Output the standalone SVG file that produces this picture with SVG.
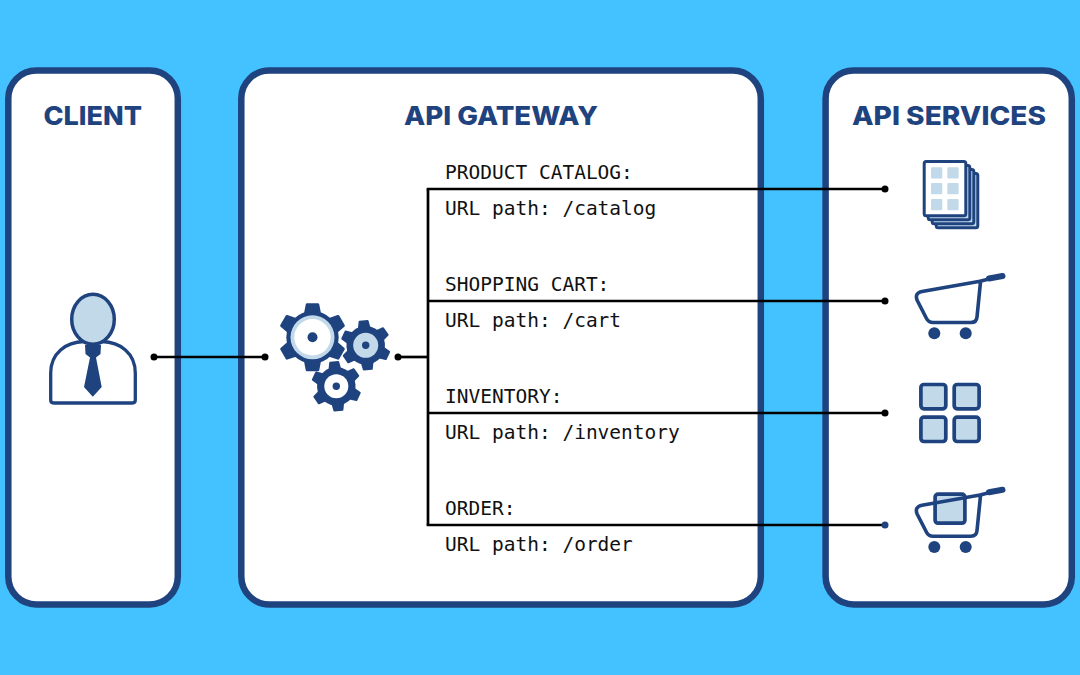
<svg xmlns="http://www.w3.org/2000/svg" width="1080" height="675" viewBox="0 0 1080 675">
  <style>
    .panel { fill: #fff; stroke: #1f437f; stroke-width: 6.5; }
    .title { font-family: "Inter", "Open Sans", sans-serif; font-weight: 800; font-size: 26px; fill: #1f437f; text-anchor: middle; }
    .route { font-family: "DejaVu Sans Mono", monospace; font-size: 19.5px; fill: #111; }
    .wire { fill: none; stroke: #000; stroke-width: 2.7; }
    .dot { fill: #000; }
    .dark { fill: #1f437f; }
    .light { fill: #c2d9ea; }
    .line { stroke: #1f437f; stroke-width: 3; stroke-linejoin: round; stroke-linecap: round; }
    .thick { stroke: #1f437f; stroke-width: 3.7; stroke-linejoin: round; }
    .tooth { fill: #1f437f; stroke: #1f437f; stroke-width: 8; stroke-linejoin: round; }
  </style>
  <defs>
    <!-- six-toothed wheel on a 100-unit radius -->
    <path id="tooth" class="tooth" d="M70 -21 L96 -16 L96 16 L70 21 Z"/>
    <g id="gear">
      <circle class="dark" r="77"/>
      <use href="#tooth" transform="rotate(30)"/>
      <use href="#tooth" transform="rotate(90)"/>
      <use href="#tooth" transform="rotate(150)"/>
      <use href="#tooth" transform="rotate(210)"/>
      <use href="#tooth" transform="rotate(270)"/>
      <use href="#tooth" transform="rotate(330)"/>
    </g>
    <g id="cart">
      <path d="M981.5 281 L922 291.500 Q914.500 293 917 300 L926.500 318.500 Q928.500 322.500 933 322.500 L971 322.500 Q976.500 322.500 977 317 L980.500 282" fill="none" stroke="#1f437f" stroke-width="3.600" stroke-linejoin="round"/>
      <path d="M989 278.500 L1002.500 276" fill="none" stroke="#1f437f" stroke-width="6" stroke-linecap="round"/>
      <path d="M981 281 L989 279" fill="none" stroke="#1f437f" stroke-width="3.600"/>
      <circle class="dark" cx="934.300" cy="333.300" r="6"/>
      <circle class="dark" cx="965.700" cy="333.300" r="6"/>
    </g>
  </defs>

  <rect width="1080" height="675" fill="#44c2ff"/>

  <g id="client">
    <rect class="panel" x="8.300" y="70.500" width="169.500" height="534" rx="28"/>
    <text class="title" x="92.700" y="124.500" textLength="98.500" lengthAdjust="spacingAndGlyphs">CLIENT</text>
    <path d="M53.500 403 Q50.700 403 50.700 400 L50.700 373 C50.700 353 66 342 84 341.500 L102 341.500 C120 342 135.300 353 135.300 373 L135.300 400 Q135.300 403 132.500 403 Z" fill="#fff" class="thick" style="stroke-width:3.300"/>
    <path class="dark" d="M85 345 L101 345 L100.500 354 L96 357.500 L101.700 387 L92.800 396.700 L84 387 L90 357.500 L85.500 354 Z"/>
    <ellipse class="light" cx="93" cy="319.300" rx="21.300" ry="25" stroke="#1f437f" stroke-width="3.500"/>
  </g>

  <g id="api-gateway">
    <rect class="panel" x="241.300" y="70.500" width="519.500" height="534" rx="28"/>
    <text class="title" x="501" y="124.500" textLength="194" lengthAdjust="spacingAndGlyphs">API GATEWAY</text>
    <text class="route" x="445" y="179">PRODUCT CATALOG:</text>
    <text class="route" x="445" y="215">URL path: /catalog</text>
    <text class="route" x="445" y="291">SHOPPING CART:</text>
    <text class="route" x="445" y="327">URL path: /cart</text>
    <text class="route" x="445" y="403">INVENTORY:</text>
    <text class="route" x="445" y="439">URL path: /inventory</text>
    <text class="route" x="445" y="515">ORDER:</text>
    <text class="route" x="445" y="551">URL path: /order</text>
  </g>

  <g id="gear-large">
    <use href="#gear" transform="translate(312.500 337.300) scale(0.34)"/>
    <circle class="light" cx="312.500" cy="337.300" r="22"/>
    <circle cx="312.500" cy="337.300" r="18.200" fill="#fff"/>
    <circle class="dark" cx="312.500" cy="337.300" r="5"/>
  </g>
  <g id="gear-right">
    <use href="#gear" transform="translate(365.700 345.300) rotate(-5) scale(0.25)"/>
    <circle class="light" cx="365.700" cy="345.300" r="12.500"/>
    <circle class="dark" cx="365.700" cy="345.300" r="3.700"/>
  </g>
  <g id="gear-bottom">
    <use href="#gear" transform="translate(336.300 386.300) rotate(-5) scale(0.25)"/>
    <circle cx="336.300" cy="386.300" r="12" fill="#fff"/>
    <circle class="dark" cx="336.300" cy="386.300" r="3.700"/>
  </g>

  <g id="api-services">
    <rect class="panel" x="825.600" y="70.500" width="246.200" height="534" rx="28"/>
    <text class="title" x="949" y="124.500" textLength="194" lengthAdjust="spacingAndGlyphs">API SERVICES</text>
  </g>

  <g id="catalog-service">
    <rect class="light line" x="936.200" y="173.500" width="41.600" height="54.300" rx="2"/>
    <rect class="light line" x="932.200" y="169.500" width="41.600" height="54.300" rx="2"/>
    <rect class="light line" x="928.200" y="165.500" width="41.600" height="54.300" rx="2"/>
    <rect x="924.200" y="161.500" width="41.600" height="54.300" rx="2" fill="#fff" class="line"/>
    <g class="light">
      <rect x="931" y="167.300" width="11.300" height="11.300" rx="1"/>
      <rect x="947.300" y="167.300" width="11.300" height="11.300" rx="1"/>
      <rect x="931" y="183" width="11.300" height="11.300" rx="1"/>
      <rect x="947.300" y="183" width="11.300" height="11.300" rx="1"/>
      <rect x="931" y="199" width="11.300" height="11.300" rx="1"/>
      <rect x="947.300" y="199" width="11.300" height="11.300" rx="1"/>
    </g>
  </g>

  <g id="cart-service">
    <use href="#cart"/>
  </g>

  <g id="inventory-service">
    <rect class="light thick" x="920.900" y="384.500" width="24.900" height="24.300" rx="3"/>
    <rect class="light thick" x="954.200" y="384.500" width="24.900" height="24.300" rx="3"/>
    <rect class="light thick" x="920.900" y="417.200" width="24.900" height="24.300" rx="3"/>
    <rect class="light thick" x="954.200" y="417.200" width="24.900" height="24.300" rx="3"/>
  </g>

  <g id="order-service">
    <rect class="light thick" x="935.100" y="494.100" width="29.800" height="29.100" rx="3"/>
    <use href="#cart" y="213.700"/>
  </g>

  <g id="connectors">
    <path class="wire" d="M154 357 H265"/>
    <path class="wire" d="M398 357 H428"/>
    <path class="wire" d="M428 189 V525"/>
    <path class="wire" d="M426.650 189 H885"/>
    <path class="wire" d="M428 301 H885"/>
    <path class="wire" d="M428 413 H885"/>
    <path class="wire" d="M426.650 525 H885"/>
    <circle class="dot" cx="154" cy="357" r="3.500"/>
    <circle class="dot" cx="265" cy="357" r="3.500"/>
    <circle class="dot" cx="398" cy="357" r="3.500"/>
    <circle class="dot" cx="885" cy="189" r="3.500"/>
    <circle class="dot" cx="885" cy="301" r="3.500"/>
    <circle class="dot" cx="885" cy="413" r="3.500"/>
    <circle class="dark" cx="885" cy="525" r="3.500"/>
  </g>
</svg>
